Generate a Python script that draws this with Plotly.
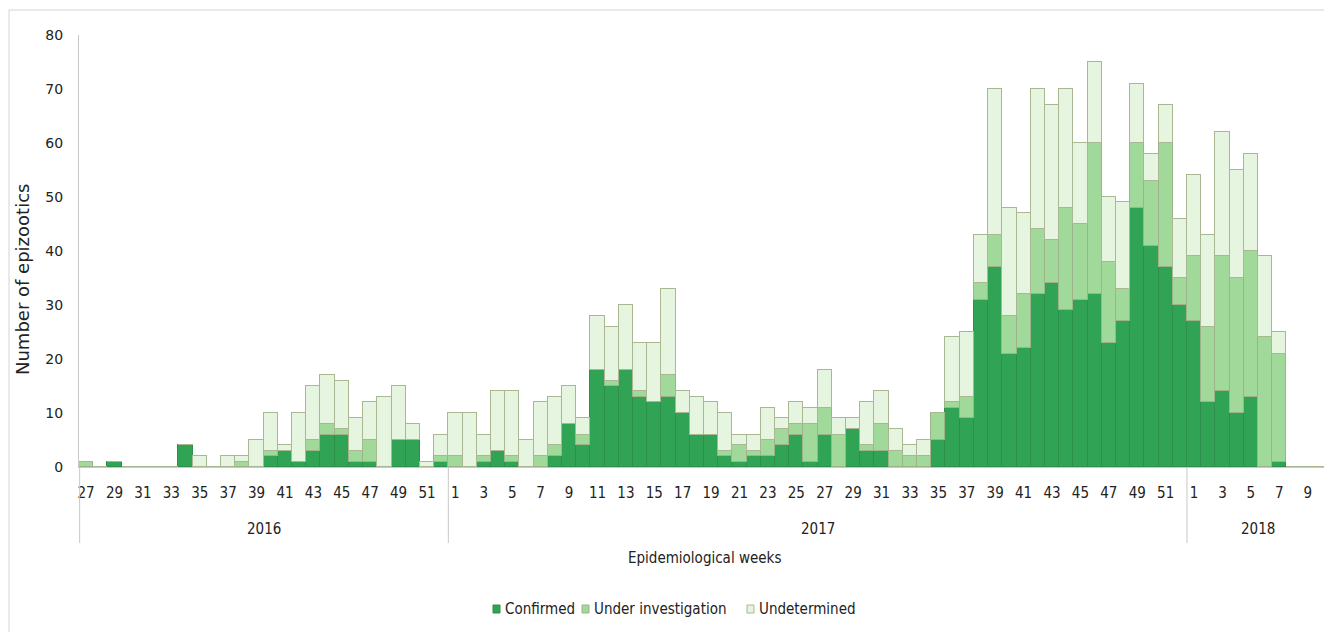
import plotly.graph_objects as go

# ---- data ----
years = [2016] * 26 + [2017] * 52 + [2018] * 10
weeks = list(range(27, 53)) + list(range(1, 53)) + list(range(1, 11))

confirmed = [
    # 2016 wk27-52
    0, 0, 1, 0, 0, 0, 0, 4, 0, 0, 0, 0, 0, 2, 3, 1, 3, 6, 6, 1, 1, 0, 5, 5, 0, 1,
    # 2017 wk1-52
    0, 0, 1, 3, 1, 0, 0, 2, 8, 4, 18, 15, 18, 13, 12, 13, 10, 6, 6, 2, 1, 2, 2, 4, 6, 1,
    6, 0, 7, 3, 3, 0, 0, 0, 5, 11, 9, 31, 37, 21, 22, 32, 34, 29, 31, 32, 23, 27, 48, 41, 37, 30,
    # 2018 wk1-10
    27, 12, 14, 10, 13, 0, 1, 0, 0, 0,
]
under_investigation = [
    1, 0, 0, 0, 0, 0, 0, 0, 0, 0, 0, 1, 0, 1, 0, 0, 2, 2, 1, 2, 4, 0, 0, 0, 0, 1,
    2, 0, 1, 0, 1, 0, 2, 2, 0, 2, 0, 1, 0, 1, 0, 4, 0, 0, 0, 1, 3, 1, 3, 3, 2, 7,
    5, 6, 0, 1, 5, 3, 2, 2, 5, 1, 4, 3, 6, 7, 10, 12, 8, 19, 14, 28, 15, 6, 12, 12, 23, 5,
    12, 14, 25, 25, 27, 24, 20, 0, 0, 0,
]
undetermined = [
    0, 0, 0, 0, 0, 0, 0, 0, 2, 0, 2, 1, 5, 7, 1, 9, 10, 9, 9, 6, 7, 13, 10, 3, 1, 4,
    8, 10, 4, 11, 12, 5, 10, 9, 7, 3, 10, 10, 12, 9, 11, 16, 4, 7, 6, 7, 2, 3, 6, 2, 4, 3,
    7, 3, 2, 8, 6, 4, 2, 3, 0, 12, 12, 9, 27, 20, 15, 26, 25, 22, 15, 15, 12, 16, 11, 5, 7, 11,
    15, 17, 23, 20, 18, 15, 4, 0, 0, 0,
]
year_labels = ["2016", "2017", "2018"]
series_names = ["Confirmed", "Under investigation", "Undetermined"]
series_fill = ["#31a354", "#a1d99b", "#e5f5e0"]
series_line = ["#2c8f4b", "#9fb38a", "#a9b892"]

# ---- derived positions ----
x = list(range(len(weeks)))
tickvals = [i for i, w in enumerate(weeks) if w % 2 == 1]
ticktext = [str(weeks[i]) for i in tickvals]

# Figure geometry (the page body adds an 8px offset)
OFF = 8
W, H = 1332 - OFF, 632 - OFF
L, R, T, B = 79 - OFF, 3, 35 - OFF, 165
PW, PH = W - L - R, H - T - B


def px_x(p):
    return (p - OFF - L) / PW


def px_y(p):
    return (H - B - (p - OFF)) / PH


narrow = "DejaVu Sans Condensed, Liberation Sans Narrow, Arial Narrow, sans-serif"
wide = "Verdana, DejaVu Sans, sans-serif"

fig = go.Figure()
for vals, name, fc, lc in zip([confirmed, under_investigation, undetermined],
                              series_names, series_fill, series_line):
    fig.add_trace(go.Bar(x=x, y=vals, name=name,
                         marker=dict(color=fc, line=dict(color=lc, width=1))))

shapes = []
annotations = []

# year group dividers and labels
bounds = []
start = 0
for yv in sorted(set(years)):
    n = years.count(yv)
    bounds.append((start, start + n))
    start += n
div_positions = [bounds[0][0]] + [b[1] for b in bounds]
for d in div_positions:
    xp = min(max(d / len(weeks), 0.0005), 0.9985)
    shapes.append(dict(type="line", xref="paper", yref="paper", x0=xp, x1=xp,
                       y0=0, y1=px_y(543), line=dict(color="#c8c8c8", width=1)))
for (s, e), lab in zip(bounds, year_labels):
    annotations.append(dict(xref="x", yref="paper", x=(s + e - 1) / 2, y=px_y(529),
                            text=lab, showarrow=False, yanchor="middle",
                            font=dict(family=narrow, size=15, color="#222")))

annotations.append(dict(xref="paper", yref="paper", x=0.5, y=px_y(558),
                        text="Epidemiological weeks", showarrow=False, yanchor="middle",
                        font=dict(family=narrow, size=15, color="#222")))
annotations.append(dict(xref="paper", yref="paper", x=px_x(22), y=px_y(280),
                        text="Number of epizootics", showarrow=False, textangle=-90,
                        xanchor="center", yanchor="middle",
                        font=dict(family=wide, size=18, color="#222")))

# custom legend (square marker + label)
legend_x = [493, 582, 747]
for lx, name, fc, lc in zip(legend_x, series_names, series_fill, series_line):
    shapes.append(dict(type="rect", xref="paper", yref="paper",
                       x0=px_x(lx), x1=px_x(lx + 7), y0=px_y(613), y1=px_y(605),
                       fillcolor=fc, line=dict(color=lc, width=1)))
    annotations.append(dict(xref="paper", yref="paper", x=px_x(lx + 10), y=px_y(609),
                            text=name, showarrow=False, xanchor="left", yanchor="middle",
                            font=dict(family=narrow, size=15, color="#222")))

# outer chart-area border (left and top edges)
shapes.append(dict(type="path", xref="paper", yref="paper",
                   path=f"M {px_x(9)} {px_y(640)} L {px_x(9)} {px_y(10)} L {px_x(1340)} {px_y(10)}",
                   line=dict(color="#d4d4d4", width=1)))

fig.update_layout(
    width=W, height=H,
    margin=dict(l=L, r=R, t=T, b=B),
    barmode="stack", bargap=0,
    paper_bgcolor="white", plot_bgcolor="white",
    showlegend=False,
    shapes=shapes, annotations=annotations,
    xaxis=dict(range=[-0.5, len(weeks) - 0.5], tickmode="array", tickvals=tickvals,
               ticktext=ticktext, tickangle=0, showgrid=False, zeroline=False,
               showline=True, linecolor="#c8c8c8", ticks="", ticklabelstandoff=12,
               tickfont=dict(family=narrow, size=15, color="#222")),
    yaxis=dict(range=[0, 80], dtick=10, showgrid=False, zeroline=False,
               showline=True, linecolor="#c8c8c8", ticks="", ticklabelstandoff=12,
               tickfont=dict(family=wide, size=14, color="#222")),
)

fig.write_html("out.html")
